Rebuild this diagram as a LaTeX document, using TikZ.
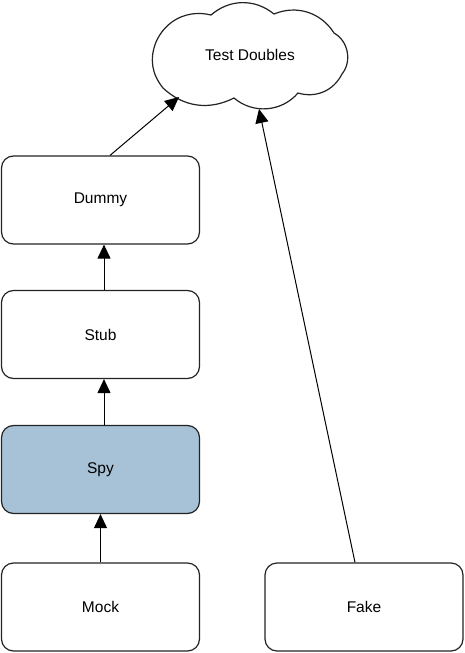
\documentclass[tikz,border=0pt]{standalone}
\usepackage{fontspec}
\setmainfont{Liberation Sans}
\usetikzlibrary{arrows.meta}
\definecolor{spyblue}{RGB}{167,194,214}
\definecolor{edge}{RGB}{35,35,35}
\begin{document}
\begin{tikzpicture}[x=1pt,y=1pt,
  lbl/.style={font=\fontsize{15.5}{18}\selectfont},
  box/.style={lbl, draw=edge, line width=1.2pt, rounded corners=12pt, minimum width=198pt, minimum height=88pt, inner sep=0pt},
  arr/.style={draw=black, line width=1pt, -{Triangle[width=13pt,length=14pt]}}
]
\useasboundingbox (0,0) rectangle (465,-653);
% cloud
\draw[edge, line width=1.2pt, fill=white]
  (156,-42) to[bend left=40] (211,-15)
  to[bend left=40] (274,-14)
  to[bend left=40] (334,-33)
  to[bend left=50] (342,-74)
  to[bend left=40] (298,-93)
  to[bend left=45] (234,-98)
  to[bend left=35] (163,-88)
  to[bend left=30] cycle;
\node[lbl] (td) at (250,-55) {Test Doubles};
\coordinate (c1) at (179,-97);
\coordinate (c2) at (259,-109);
% boxes
\node[box] (dummy) at (100.5,-200) {Dummy};
\node[box] (stub) at (100.5,-334.5) {Stub};
\node[box, fill=spyblue] (spy) at (100.5,-469.5) {Spy};
\node[box] (mock) at (100.5,-607) {Mock};
\node[box] (fake) at (364,-607) {Fake};
% arrows
\draw[arr] ([xshift=3.5pt]stub.north) -- ([xshift=3.5pt]dummy.south);
\draw[arr] ([xshift=3.5pt]spy.north) -- ([xshift=3.5pt]stub.south);
\draw[arr] (mock.north) -- (spy.south);
\draw[arr] ([xshift=9.5pt]dummy.north) -- (c1);
\draw[arr] ([xshift=-9pt]fake.north) -- (c2);
\end{tikzpicture}
\end{document}
